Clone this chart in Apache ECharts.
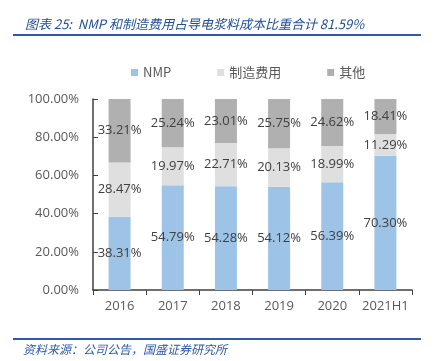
<!DOCTYPE html>
<html><head><meta charset="utf-8">
<script src="https://cdn.jsdelivr.net/npm/echarts@6/dist/echarts.min.js"></script>
<style>html,body{margin:0;padding:0;background:#fff}#c{width:434px;height:361px}</style>
</head><body><div id="c"></div>
<script>
var categories = ['2016','2017','2018','2019','2020','2021H1'];
var nmp = [38.31, 54.79, 54.28, 54.12, 56.39, 70.30];
var manufacturing = [28.47, 19.97, 22.71, 20.13, 18.99, 11.29];
var other = [33.21, 25.24, 23.01, 25.75, 24.62, 18.41];
var seriesNames = ['NMP', '制造费用', '其他'];
var yTicks = [0, 20, 40, 60, 80, 100];

var chart = echarts.init(document.getElementById('c'));
var lbl = {show: true, position: 'inside', color: '#404040', fontSize: 13,
  fontFamily: 'Open Sans, Noto Sans, sans-serif',
  formatter: function(p){ return p.value.toFixed(2) + '%'; }};
function mk(name, data, color){
  return {name: name, type: 'bar', stack: 'a', data: data, barWidth: 22,
    itemStyle: {color: color}, label: lbl};
}
chart.setOption({
  animation: false,
  title: {text: '图表 25:  NMP 和制造费用占导电浆料成本比重合计 81.59%', left: 20, top: 13,
    textStyle: {color: '#1f4e9a', fontSize: 13, fontStyle: 'italic', fontWeight: 'normal',
      fontFamily: 'Noto Sans CJK SC, sans-serif'}},
  legend: {data: seriesNames, top: 61, left: 126, itemWidth: 7, itemHeight: 7, itemGap: 46,
    icon: 'rect', textStyle: {color: '#595959', fontSize: 13, fontFamily: 'Noto Sans CJK SC, sans-serif'}},
  grid: {left: 93, right: 22, top: 99, bottom: 71},
  xAxis: {type: 'category', data: categories,
    axisLine: {lineStyle: {color: '#404040', width: 1.5}},
    axisTick: {show: true, length: 5, interval: 0, lineStyle: {color: '#404040'}},
    axisLabel: {color: '#595959', fontSize: 13, margin: 10, interval: 0, fontFamily: 'Open Sans, Noto Sans, sans-serif'}},
  yAxis: {type: 'value', min: 0, max: 100, interval: 20,
    axisLine: {show: true, lineStyle: {color: '#404040', width: 1.5}},
    axisTick: {show: true, inside: true, length: 5, lineStyle: {color: '#404040'}},
    splitLine: {show: false},
    axisLabel: {color: '#595959', fontSize: 13, margin: 14, fontFamily: 'Open Sans, Noto Sans, sans-serif',
      formatter: function(v){ return v.toFixed(2) + '%'; }}},
  series: [mk(seriesNames[0], nmp, '#9dc3e6'), mk(seriesNames[1], manufacturing, '#dfdfdf'), mk(seriesNames[2], other, '#b0b0b0')],
  graphic: [
    {type: 'line', shape: {x1: 13, y1: 35, x2: 421, y2: 35}, style: {stroke: '#2e5aa8', lineWidth: 2}},
    {type: 'line', shape: {x1: 13, y1: 339, x2: 421, y2: 339}, style: {stroke: '#2e5aa8', lineWidth: 2}},
    {type: 'text', left: 23, top: 343, style: {text: '资料来源：公司公告，国盛证券研究所', fill: '#2e5aa8',
      fontSize: 12, fontStyle: 'italic', fontFamily: 'Noto Sans CJK SC, sans-serif'}}
  ]
});
</script></body></html>
